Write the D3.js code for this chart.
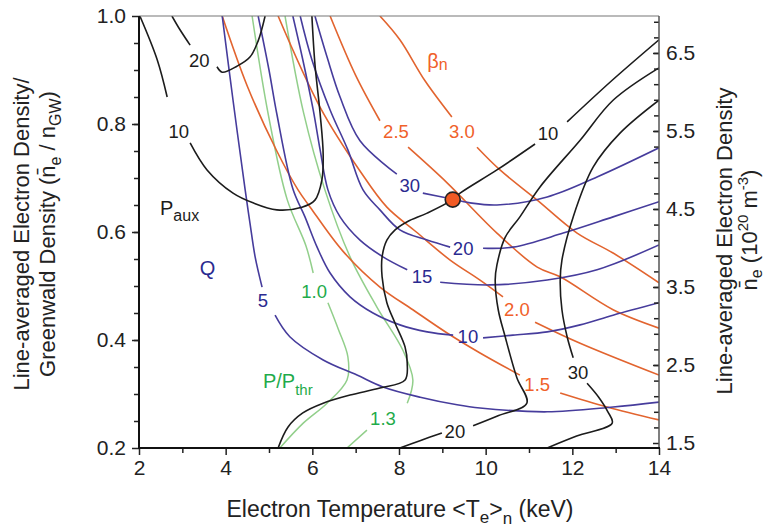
<!DOCTYPE html>
<html>
<head>
<meta charset="utf-8">
<script src="https://cdn.jsdelivr.net/npm/d3@7"></script>
<style>
  html, body { margin: 0; padding: 0; background: #fff; }
  svg text { font-family: "Liberation Sans", Arial, Helvetica, sans-serif; }
</style>
</head>
<body>
<svg id="chart" width="767" height="527"></svg>
<script>
// ---------------- data: [Te (keV), n/nGW]; null marks a gap for the contour label ----------------
const xMajorTicks = [2, 4, 6, 8, 10, 12, 14];
const yMajorTicks = [0.2, 0.4, 0.6, 0.8, 1.0];
const neMajorTicks = [1.5, 2.5, 3.5, 4.5, 5.5, 6.5];
const neDomain = [1.436, 6.974];

// auxiliary heating power P_aux (MW)
const paux10Left = [[2.02,1.0],[2.42,0.919],[2.65,0.85],null,[3.18,0.765],[3.57,0.715],[4.17,0.672],[4.63,0.654],[5.18,0.641],[5.76,0.646],[6.06,0.659],[6.22,0.696],[6.25,0.744],[6.18,0.819],[6.06,0.911],[5.99,1.0]];
const paux20Left = [[2.76,1.0],[2.95,0.974],[3.18,0.946],null,[3.80,0.906],[3.92,0.896],[4.26,0.907],[4.56,0.924],[4.75,0.954],[4.91,1.0]];
const paux10 = [[5.21,0.2],[5.44,0.239],[5.78,0.265],[6.25,0.283],[6.87,0.298],[7.56,0.311],[8.14,0.326],[8.19,0.357],[8.14,0.387],[7.91,0.431],[7.72,0.469],[7.61,0.517],[7.61,0.554],[7.72,0.585],[7.91,0.604],[8.19,0.619],[8.65,0.635],[9.22,0.659],[9.41,0.672],[10.26,0.715],[11.14,0.763],null,[11.88,0.804],[12.92,0.881],[14.0,0.956]];
const paux20 = [[8.02,0.2],[8.5,0.214],[8.99,0.228],null,[9.71,0.241],[10.3,0.26],[10.95,0.283],[10.72,0.330],[10.45,0.406],[10.29,0.456],[10.22,0.511],[10.26,0.539],[10.45,0.59],[10.79,0.628],[11.25,0.683],[12.18,0.770],[12.94,0.844],[14.0,0.904]];
const paux30 = [[11.42,0.2],[12.1,0.222],[12.92,0.246],[12.82,0.267],[12.6,0.295],[12.34,0.320],null,[12.02,0.367],[11.88,0.406],[11.76,0.456],[11.72,0.511],[11.76,0.548],[12.02,0.628],[12.48,0.720],[13.10,0.783],[14.0,0.844]];

// fusion gain Q
const q5 = [[3.92,1.0],[4.17,0.844],[4.45,0.678],[4.56,0.617],[4.68,0.554],[4.84,0.498],null,[5.14,0.446],[5.48,0.406],[6.25,0.363],[7.03,0.335],[7.63,0.313],[8.49,0.294],[9.34,0.280],[9.87,0.274],[11.42,0.267],[12.94,0.276],[14.0,0.285]];
const q10 = [[4.75,1.0],[5.0,0.9],[5.18,0.819],[5.55,0.68],[5.83,0.628],[6.11,0.572],[6.41,0.524],[6.87,0.48],[7.4,0.45],[8.02,0.428],[8.65,0.415],[9.25,0.409],null,[9.94,0.404],[10.63,0.409],[11.42,0.415],[12.18,0.428],[12.94,0.446],[14.0,0.469]];
const q15 = [[5.55,1.0],[5.78,0.919],[6.02,0.826],[6.18,0.752],[6.36,0.678],[6.64,0.628],[7.1,0.585],[7.63,0.554],[8.19,0.530],null,[8.95,0.507],[10.1,0.502],[11.42,0.511],[12.57,0.530],[14.0,0.576]];
const q20 = [[5.72,1.0],[5.99,0.919],[6.41,0.826],[6.82,0.752],[7.17,0.678],[7.56,0.641],[8.02,0.604],[8.65,0.585],[9.18,0.572],null,[9.94,0.570],[10.63,0.572],[11.79,0.598],[12.94,0.628],[14.0,0.656]];
const q30 = [[6.06,1.0],[6.34,0.924],[6.64,0.85],[7.1,0.769],[7.95,0.707],null,[8.55,0.672],[9.11,0.663],[9.64,0.654],[10.26,0.65],[11.42,0.665],[12.57,0.702],[14.0,0.756]];

// normalized beta
const beta15 = [[3.92,1.0],[4.5,0.87],[5.18,0.75],[5.67,0.678],[5.95,0.646],[6.7,0.565],[7.56,0.498],[8.32,0.456],[9.11,0.413],[9.87,0.376],[10.79,0.335],null,[11.72,0.302],[12.8,0.276],[14.0,0.252]];
const beta20 = [[5.21,1.0],[6.18,0.831],[7.1,0.713],[7.72,0.646],[8.4,0.6],[9.18,0.548],[9.87,0.511],[10.4,0.480],null,[11.14,0.433],[12.18,0.394],[14.0,0.335]];
const beta25 = [[6.41,1.0],[7.0,0.89],[7.56,0.806],null,[8.21,0.757],[9.11,0.691],[10.26,0.598],[11.19,0.535],[11.72,0.517],[12.94,0.456],[14.0,0.422]];
const beta30 = [[7.56,1.0],[8.02,0.956],[8.6,0.88],[9.22,0.813],null,[9.8,0.757],[10.33,0.715],[11.19,0.659],[12.11,0.598],[12.94,0.561],[14.0,0.506]];

// power over L-H threshold
const pthr10 = [[4.61,1.0],[4.98,0.819],[5.42,0.66],[5.85,0.575],[6.02,0.524],null,[6.36,0.469],[6.6,0.42],[6.82,0.369],[6.8,0.326],[6.34,0.283],[5.79,0.246],[5.25,0.2]];
const pthr13 = [[5.37,1.0],[5.8,0.82],[6.29,0.678],[6.87,0.554],[7.49,0.461],[8.09,0.381],[8.32,0.326],[8.19,0.283],null,[7.26,0.233],[6.8,0.2]];

// design operating point
const operatingPoint = [9.24, 0.66];

// ---------------- layout ----------------
const W = 767, H = 527;
const m = { top: 16, right: 108, bottom: 79, left: 139 };
const svg = d3.select("#chart");

const x = d3.scaleLinear().domain([2, 14]).range([m.left, W - m.right]);
const y = d3.scaleLinear().domain([0.2, 1.0]).range([H - m.bottom, m.top]);
const yR = d3.scaleLinear().domain(neDomain).range([H - m.bottom, m.top]);

const COL = {
  black: "#1c1c1c",
  blue: "#463c9c", blueText: "#2a2a90",
  orange: "#e2642f", orangeText: "#f0612a",
  green: "#92cf8b", greenText: "#1fab4b"
};

const families = [
  { color: COL.green,  text: COL.greenText,  fmt: d3.format(".1f"), width: 1.5, curves: [
      { level: 1.0, pts: pthr10, at: [6.04, 0.489] },
      { level: 1.3, pts: pthr13, at: [7.63, 0.254] } ] },
  { color: COL.orange, text: COL.orangeText, fmt: d3.format(".1f"), width: 1.6, curves: [
      { level: 1.5, pts: beta15, at: [11.19, 0.317] },
      { level: 2.0, pts: beta20, at: [10.72, 0.457] },
      { level: 2.5, pts: beta25, at: [7.93, 0.787] },
      { level: 3.0, pts: beta30, at: [9.45, 0.787] } ] },
  { color: COL.blue,   text: COL.blueText,   fmt: d3.format("d"),   width: 1.6, curves: [
      { level: 5,  pts: q5,  at: [4.86, 0.474] },
      { level: 10, pts: q10, at: [9.59, 0.407] },
      { level: 15, pts: q15, at: [8.53, 0.517] },
      { level: 20, pts: q20, at: [9.48, 0.569] },
      { level: 30, pts: q30, at: [8.25, 0.687] } ] },
  { color: COL.black,  text: COL.black,      fmt: d3.format("d"),   width: 1.6, curves: [
      { level: 10, pts: paux10Left, at: [2.92, 0.787] },
      { level: 20, pts: paux20Left, at: [3.39, 0.917] },
      { level: 10, pts: paux10, at: [11.44, 0.783] },
      { level: 20, pts: paux20, at: [9.29, 0.230] },
      { level: 30, pts: paux30, at: [12.13, 0.339] } ] }
];

// clip to plot area
svg.append("defs").append("clipPath").attr("id", "plot-clip")
  .append("rect")
  .attr("x", m.left).attr("y", m.top)
  .attr("width", W - m.left - m.right).attr("height", H - m.top - m.bottom);

const line = d3.line()
  .defined(d => d !== null)
  .x(d => x(d[0])).y(d => y(d[1]))
  .curve(d3.curveCatmullRom.alpha(0.5));

const plot = svg.append("g").attr("clip-path", "url(#plot-clip)");
families.forEach(fam => {
  fam.curves.forEach(c => {
    plot.append("path")
      .attr("d", line(c.pts))
      .attr("fill", "none")
      .attr("stroke", fam.color)
      .attr("stroke-width", fam.width)
      .attr("stroke-linejoin", "round");
  });
});

// operating point
svg.append("circle")
  .attr("cx", x(operatingPoint[0])).attr("cy", y(operatingPoint[1]))
  .attr("r", 7.5)
  .attr("fill", "#f15a24").attr("stroke", "#222").attr("stroke-width", 1.6);

// contour labels
const labels = svg.append("g").attr("font-size", 18.5);
families.forEach(fam => {
  fam.curves.forEach(c => {
    labels.append("text")
      .attr("x", x(c.at[0])).attr("y", y(c.at[1]))
      .attr("text-anchor", "middle").attr("dominant-baseline", "central")
      .attr("fill", fam.text)
      .text(fam.fmt(c.level));
  });
});

// family names
function subLabel(pos, main, sub, color, size, subSize, subShift) {
  const t = svg.append("text")
    .attr("x", x(pos[0])).attr("y", y(pos[1]))
    .attr("fill", color).attr("font-size", size);
  t.append("tspan").text(main);
  if (sub) t.append("tspan").attr("font-size", subSize).attr("dy", subShift).text(sub);
  return t;
}
subLabel([2.485, 0.631], "P", "aux", COL.black, 20, 16, 6);
subLabel([3.40, 0.520], "Q", null, COL.blueText, 20);
subLabel([4.86, 0.311], "P/P", "thr", COL.greenText, 20, 15, 7);
subLabel([8.65, 0.904], "\u03b2", "n", COL.orangeText, 20, 16, 2);

// ---------------- axes ----------------
const axisFont = 21;
function styleAxis(g, labelsOn) {
  g.selectAll(".tick line").attr("stroke", "#222").attr("stroke-width", 1.5);
  g.selectAll(".tick text").attr("fill", "#222").attr("font-size", axisFont)
    .style("font-family", '"Liberation Sans", Arial, sans-serif');
  if (!labelsOn) g.selectAll(".tick text").remove();
  g.select(".domain").remove();
}

// left
const gL1 = svg.append("g").attr("transform", `translate(${m.left},0)`)
  .call(d3.axisLeft(y).tickValues(d3.range(0.25, 1.0, 0.05)).tickSize(5).tickFormat(""));
styleAxis(gL1, false);
const gL = svg.append("g").attr("transform", `translate(${m.left},0)`)
  .call(d3.axisLeft(y).tickValues(yMajorTicks).tickSize(7).tickPadding(6).tickFormat(d3.format(".1f")));
styleAxis(gL, true);

// bottom
const gB1 = svg.append("g").attr("transform", `translate(0,${H - m.bottom})`)
  .call(d3.axisBottom(x).tickValues(d3.range(3, 14, 2)).tickSize(5).tickFormat(""));
styleAxis(gB1, false);
const gB = svg.append("g").attr("transform", `translate(0,${H - m.bottom})`)
  .call(d3.axisBottom(x).tickValues(xMajorTicks).tickSize(7).tickPadding(5).tickFormat(d3.format("d")));
styleAxis(gB, true);

// right (density, ticks pointing inward)
const gR1 = svg.append("g").attr("transform", `translate(${W - m.right},0)`)
  .call(d3.axisRight(yR).tickValues(d3.range(1.7, 6.95, 0.2)).tickSize(-5).tickFormat(""));
styleAxis(gR1, false);
const gR = svg.append("g").attr("transform", `translate(${W - m.right},0)`)
  .call(d3.axisRight(yR).tickValues(neMajorTicks).tickSize(-6).tickPadding(7).tickFormat(d3.format(".1f")));
styleAxis(gR, true);

// frame
svg.append("line").attr("x1", m.left).attr("x2", W - m.right).attr("y1", m.top).attr("y2", m.top)
  .attr("stroke", "#777").attr("stroke-width", 1.2);
svg.append("line").attr("x1", W - m.right).attr("x2", W - m.right).attr("y1", m.top).attr("y2", H - m.bottom)
  .attr("stroke", "#555").attr("stroke-width", 1.5);
svg.append("line").attr("x1", m.left).attr("x2", m.left).attr("y1", m.top).attr("y2", H - m.bottom + 1)
  .attr("stroke", "#111").attr("stroke-width", 2);
svg.append("line").attr("x1", m.left - 1).attr("x2", W - m.right + 1).attr("y1", H - m.bottom).attr("y2", H - m.bottom)
  .attr("stroke", "#111").attr("stroke-width", 2);

// ---------------- axis titles ----------------
const titleSize = 22;
function addSub(t, s, dy, size) { t.append("tspan").attr("font-size", size).attr("dy", dy).text(s); }
function addMain(t, s, dy) { const ts = t.append("tspan").text(s); if (dy) ts.attr("dy", dy); return ts; }

// x title
{
  const t = svg.append("text").attr("x", 400).attr("y", 517)
    .attr("text-anchor", "middle").attr("font-size", 23).attr("fill", "#222");
  addMain(t, "Electron Temperature <T");
  addSub(t, "e", 6, 17);
  addMain(t, ">", -6);
  addSub(t, "n", 7, 17);
  addMain(t, " (keV)", -7);
}

// left title
{
  const g = svg.append("g").attr("transform", "translate(29,234) rotate(-90)");
  g.append("text").attr("text-anchor", "middle").attr("font-size", titleSize).attr("fill", "#222")
    .text("Line-averaged Electron Density/");
  const t = svg.append("g").attr("transform", "translate(55,234) rotate(-90)")
    .append("text").attr("text-anchor", "middle").attr("font-size", titleSize).attr("fill", "#222");
  addMain(t, "Greenwald Density (n\u0304");
  addSub(t, "e", 6, 16);
  addMain(t, " / n", -6);
  addSub(t, "GW", 6, 16);
  addMain(t, ")", -6);
}

// right title
{
  svg.append("g").attr("transform", "translate(732,241) rotate(-90)")
    .append("text").attr("text-anchor", "middle").attr("font-size", titleSize).attr("fill", "#222")
    .text("Line-averaged Electron Density");
  const t = svg.append("g").attr("transform", "translate(757,230) rotate(-90)")
    .append("text").attr("text-anchor", "middle").attr("font-size", titleSize).attr("fill", "#222");
  addMain(t, "n\u0304");
  addSub(t, "e", 5, 16);
  addMain(t, " (10", -5);
  addSub(t, "20", -9, 15);
  addMain(t, " m", 9);
  addSub(t, "-3", -9, 15);
  addMain(t, ")", 9);
}
</script>
</body>
</html>
